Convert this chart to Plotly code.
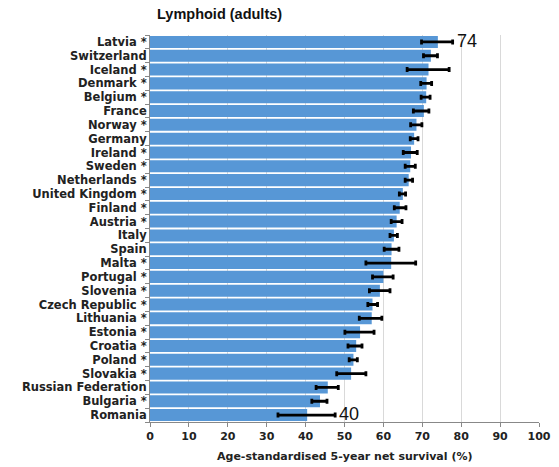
import plotly.graph_objects as go

countries = [
    "Latvia *", "Switzerland", "Iceland *", "Denmark *", "Belgium *", "France",
    "Norway *", "Germany", "Ireland *", "Sweden *", "Netherlands *",
    "United Kingdom *", "Finland *", "Austria *", "Italy", "Spain", "Malta *",
    "Portugal *", "Slovenia *", "Czech Republic *", "Lithuania *", "Estonia *",
    "Croatia *", "Poland *", "Slovakia *", "Russian Federation", "Bulgaria *",
    "Romania",
]
survival = [
    74.0, 72.2, 71.6, 71.1, 71.0, 70.4, 68.5, 67.9, 67.1, 66.9, 66.5,
    65.0, 64.2, 63.4, 62.7, 62.1, 62.0, 60.0, 59.1, 57.2, 57.0, 54.0,
    53.0, 52.3, 51.7, 45.7, 43.7, 40.4,
]
ci_low = [
    69.8, 70.3, 66.1, 69.6, 69.7, 67.7, 67.0, 66.9, 65.1, 65.6, 65.6,
    64.1, 62.8, 62.0, 61.7, 60.2, 55.5, 57.2, 56.4, 56.0, 53.8, 50.1,
    50.9, 51.2, 48.0, 42.7, 41.6, 32.9,
]
ci_high = [
    77.8, 73.9, 76.9, 72.4, 72.0, 71.7, 69.9, 68.9, 68.7, 68.2, 67.5,
    65.7, 65.8, 64.8, 63.6, 64.0, 68.3, 62.5, 61.7, 58.5, 59.6, 57.6,
    54.5, 53.3, 55.5, 48.4, 45.5, 47.6,
]
x_ticks = list(range(0, 101, 10))

err_plus = [h - v for h, v in zip(ci_high, survival)]
err_minus = [v - l for v, l in zip(survival, ci_low)]

title_font = "Liberation Sans, Arial, sans-serif"
label_font = "DejaVu Sans, Verdana, sans-serif"

fig = go.Figure(
    go.Bar(
        x=survival,
        y=countries,
        orientation="h",
        marker=dict(color="#5797D6", line=dict(width=0)),
        error_x=dict(
            type="data",
            symmetric=False,
            array=err_plus,
            arrayminus=err_minus,
            color="#000000",
            thickness=2.8,
            width=2.5,
        ),
        hoverinfo="x+y",
    )
)

# value labels on the highest and lowest bars
for i in (0, len(countries) - 1):
    fig.add_annotation(
        x=ci_high[i],
        y=countries[i],
        text=str(round(survival[i])),
        showarrow=False,
        xanchor="left",
        xshift=2,
        yshift=1,
        font=dict(family=title_font, size=18, color="#111111"),
    )

# x-axis title
fig.add_annotation(
    x=0.5,
    xref="paper",
    y=0,
    yref="paper",
    yanchor="top",
    yshift=-26,
    text="<b>Age-standardised 5-year net survival (%)</b>",
    showarrow=False,
    font=dict(family=label_font, size=11, color="#222222"),
)

fig.update_layout(
    width=559,
    height=467,
    margin=dict(l=150, r=20, t=35, b=45, autoexpand=False),
    paper_bgcolor="white",
    plot_bgcolor="white",
    bargap=0.13,
    showlegend=False,
    title=dict(
        text="<b>Lymphoid (adults)</b>",
        x=157 / 559,
        xanchor="left",
        y=1 - 14 / 467,
        yanchor="middle",
        font=dict(family=title_font, size=14.5, color="#111111"),
    ),
    font=dict(family=label_font, color="#222222"),
)

fig.update_xaxes(
    range=[0, 100],
    tickvals=x_ticks,
    ticktext=[f"<b>{t}</b>" for t in x_ticks],
    tickfont=dict(family=label_font, size=11, color="#222222"),
    showgrid=True,
    gridcolor="#d9d9d9",
    gridwidth=1,
    zeroline=False,
    showline=True,
    linecolor="#888888",
    linewidth=1,
    ticks="outside",
    ticklen=4,
    tickcolor="#888888",
    automargin=False,
)

fig.update_yaxes(
    range=[len(countries) - 0.5, -0.5],
    categoryorder="array",
    categoryarray=countries,
    tickvals=countries,
    ticktext=[f"<b>{c}</b>" for c in countries],
    tickfont=dict(family=label_font, size=11.5, color="#222222"),
    showline=True,
    linecolor="#888888",
    linewidth=1,
    ticks="outside",
    tickson="boundaries",
    ticklen=4,
    tickcolor="#888888",
    showgrid=False,
    automargin=False,
)

fig.write_html("out.html")
